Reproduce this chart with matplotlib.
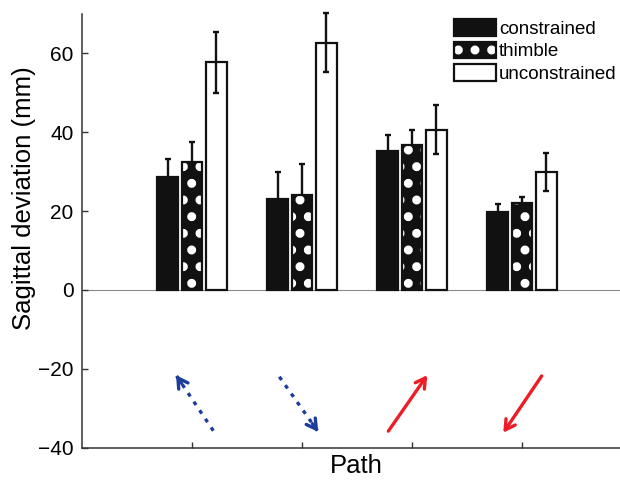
import matplotlib
matplotlib.use('Agg')
import matplotlib.pyplot as plt
import numpy as np
from matplotlib.patches import Patch

plt.rcParams['font.family'] = ['Liberation Sans', 'DejaVu Sans']
plt.rcParams['hatch.linewidth'] = 4.0

# ---- data ----
paths = [1, 2, 3, 4]
series_names = ['constrained', 'thimble', 'unconstrained']
constrained = [28.7, 23.0, 35.3, 19.7]
thimble = [32.5, 24.2, 36.7, 22.1]
unconstrained = [57.7, 62.7, 40.7, 29.9]
constrained_err = [4.4, 6.8, 3.9, 2.1]
thimble_err = [5.0, 7.7, 3.9, 1.4]
unconstrained_err = [7.7, 7.5, 6.2, 4.9]

arrow_x0 = [1.194, 1.794, 2.785, 4.179]
arrow_y0 = [-35.7, -22.0, -35.8, -21.8]
arrow_x1 = [0.855, 2.148, 3.139, 3.830]
arrow_y1 = [-21.6, -36.0, -21.6, -36.2]
arrow_colors = ['#1c3d9c', '#1c3d9c', '#ee1d25', '#ee1d25']
arrow_dashed = [True, True, False, False]
yticks = [-40, -20, 0, 20, 40, 60]

# ---- figure ----
fig = plt.figure(figsize=(6.2, 4.8), dpi=100)
ax = fig.add_axes([82 / 620, 1 - 447.7 / 480, 1 - 82 / 620, (447.7 - 14) / 480])

x = np.array(paths, dtype=float)
w = 0.185
off = 0.222
lw = 1.6
dark = '#111111'
eb = dict(fmt='none', ecolor=dark, elinewidth=1.7, capsize=2.3, capthick=1.7)

ax.axhline(0, color='#8a8a8a', lw=0.8, zorder=1)

e1 = ax.errorbar(x - off, constrained, yerr=constrained_err, zorder=2, **eb)
e2 = ax.errorbar(x, thimble, yerr=thimble_err, zorder=2, **eb)

ax.bar(x - off, constrained, w, color=dark, edgecolor=dark, lw=lw, zorder=3)
ax.bar(x, thimble, w, color=dark, edgecolor='white', hatch='.', lw=0, zorder=3)
ax.bar(x, thimble, w, fill=False, edgecolor=dark, lw=lw, zorder=4)
ax.bar(x + off, unconstrained, w, color='white', edgecolor=dark, lw=lw, zorder=3)
e3 = ax.errorbar(x + off, unconstrained, yerr=unconstrained_err, zorder=5, **eb)
for e in (e1, e2, e3):
    for part in e.lines[1] + e.lines[2]:
        part.set_clip_on(False)

# arrows
head_style = '->,head_length=0.7,head_width=0.4'
for x0, y0, x1, y1, c, d in zip(arrow_x0, arrow_y0, arrow_x1, arrow_y1,
                                 arrow_colors, arrow_dashed):
    if d:
        ax.plot([x0, x1], [y0, y1], color=c, lw=2.4,
                linestyle=(0, (1.2, 1.9)), solid_capstyle='butt', zorder=6)
        xm = x1 + (x0 - x1) * 0.15
        ym = y1 + (y0 - y1) * 0.15
        ax.annotate('', xy=(x1, y1), xytext=(xm, ym),
                    arrowprops=dict(arrowstyle=head_style, color=c, lw=2.4,
                                    shrinkA=0, shrinkB=0), zorder=6)
    else:
        ax.annotate('', xy=(x1, y1), xytext=(x0, y0),
                    arrowprops=dict(arrowstyle=head_style, color=c, lw=2.4,
                                    shrinkA=0, shrinkB=0), zorder=6)

ax.set_xlim(0, 538 / 110)
ax.set_ylim(-40, 70)
ax.set_xticks(paths)
ax.set_xticklabels([])
ax.set_yticks(yticks)
ax.tick_params(direction='in', length=4, width=1, color='#333333',
               labelsize=15, pad=6)
for s in ['top', 'right']:
    ax.spines[s].set_visible(False)
for s in ['left', 'bottom']:
    ax.spines[s].set_color('#333333')
    ax.spines[s].set_linewidth(1.1)

ax.set_ylabel('Sagittal deviation (mm)', fontsize=18.5)
ax.yaxis.set_label_coords(-0.085, 0.575)
ax.set_xlabel('Path', fontsize=18.5, va='top')
ax.xaxis.set_label_coords(0.509, -0.0145)

h1 = Patch(facecolor=dark, edgecolor=dark, lw=lw)
h2a = Patch(facecolor=dark, edgecolor='white', hatch='.', lw=0)
h2b = Patch(fill=False, edgecolor=dark, lw=lw)
h3 = Patch(facecolor='white', edgecolor=dark, lw=lw)
ax.legend([h1, (h2a, h2b), h3], series_names, loc='upper left',
          bbox_to_anchor=(454 / 620, 1 - 19 / 480), bbox_transform=fig.transFigure,
          frameon=False, fontsize=13.5, handlelength=2.24, handleheight=1.0,
          handletextpad=0.15, labelspacing=0.2, borderpad=0, borderaxespad=0)

fig.savefig('out.png', dpi=100)
